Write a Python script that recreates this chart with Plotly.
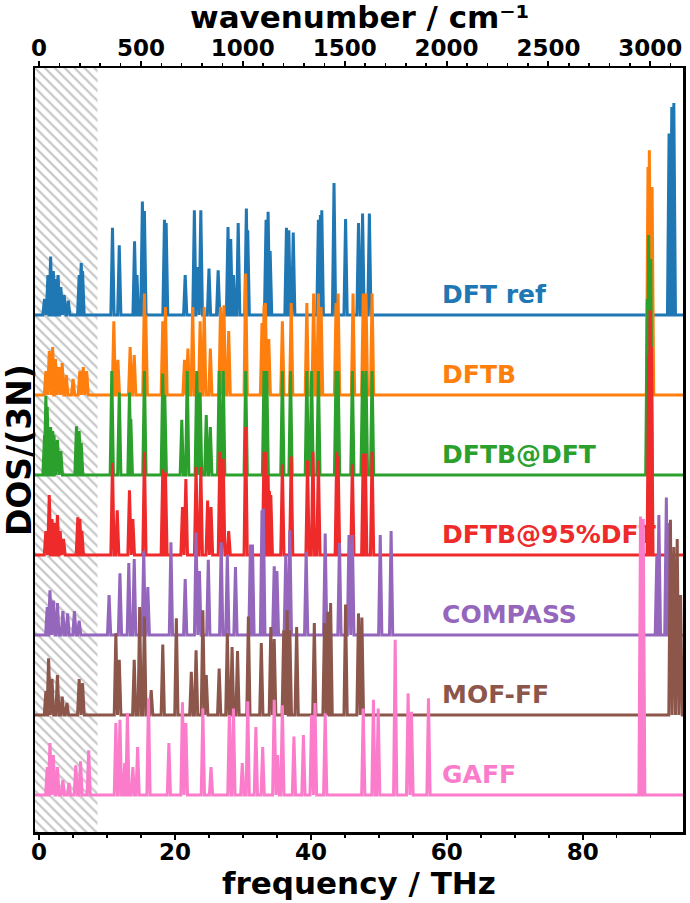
import plotly.graph_objects as go

# ---------------- data ----------------
THZ_TO_CM = 33.356          # 1 THz in cm^-1
X_RANGE = [-0.6, 94.75]     # THz
Y_RANGE = [-0.4625, 9.0875] # arbitrary DOS units (stacked)
HATCH_EDGE = 8.6            # THz, upper end of the hatched low-frequency band

series_names = ["DFT ref", "DFTB", "DFTB@DFT", "DFTB@95%DFT", "COMPASS", "MOF-FF", "GAFF"]
series_offsets = [6, 5, 4, 3, 2, 1, 0]
series_colors = ["#1f77b4", "#ff7f0e", "#2ca02c", "#ee2a2a", "#9467bd", "#8c564b", "#fb7ccb"]

dftref_pos = [0.8, 1.3, 1.7, 2.1, 2.5, 2.8, 3.2, 3.7, 4.3, 5.9, 6.2, 6.4,
              10.8, 11.8, 14.05, 14.4, 15.2, 15.5, 18.45, 18.7, 21.5, 22.85, 23.3, 23.8,
              25.0, 26.35, 27.8, 28.2, 28.6, 29.3, 30.5, 30.7, 33.4, 33.7, 34.0,
              36.4, 36.75, 37.4, 41.1, 41.4, 41.6, 43.4, 45.1, 47.0, 47.6, 48.6,
              92.7, 93.1, 93.4]
dftref_h = [0.2, 0.5, 0.73, 0.55, 0.45, 0.5, 0.35, 0.25, 0.18, 0.5, 0.65, 0.55,
            1.09, 0.87, 0.92, 0.5, 1.42, 1.3, 1.19, 1.15, 0.5, 1.31, 0.6, 1.31,
            0.58, 0.56, 1.1, 0.95, 0.5, 1.15, 1.33, 1.06, 1.19, 1.29, 0.8,
            1.09, 1.06, 1.03, 1.19, 1.25, 1.31, 1.65, 1.2, 1.15, 1.27, 1.27,
            2.27, 2.6, 2.65]

dftb_pos = [1.0, 1.5, 2.0, 2.4, 2.9, 3.4, 4.0, 5.0, 6.0, 6.5, 7.0,
            11.0, 11.6, 13.4, 14.0, 15.5, 15.7, 18.2, 18.6, 21.4, 21.9, 22.6, 23.7, 24.3,
            25.2, 26.7, 27.2, 27.9, 30.4, 32.8, 33.1, 33.3, 33.8, 35.8, 37.1, 39.4,
            40.4, 41.1, 41.5, 43.7, 44.0, 46.2, 47.7, 48.1, 49.0,
            89.6, 89.8, 90.2]
dftb_h = [0.3, 0.55, 0.6, 0.45, 0.35, 0.4, 0.25, 0.2, 0.3, 0.35, 0.3,
          0.92, 0.44, 0.6, 0.5, 1.27, 1.0, 0.92, 1.1, 0.44, 0.58, 1.1, 0.92, 1.1,
          0.58, 1.1, 1.12, 0.8, 1.52, 0.9, 1.12, 1.15, 0.7, 0.92, 1.15, 1.15,
          1.27, 1.27, 1.1, 1.15, 1.27, 1.27, 1.27, 1.27, 1.27,
          2.85, 3.06, 2.6]

dftbdft_pos = [0.8, 1.0, 1.2, 1.5, 1.7, 2.0, 2.2, 2.7, 3.2, 5.5, 5.9, 6.2,
               10.7, 11.8, 13.3, 13.5, 15.5, 18.2, 18.5, 21.0, 21.8, 23.2, 23.7, 24.6,
               25.2, 26.5, 27.1, 30.4, 33.1, 33.5, 35.8, 37.0, 39.4, 40.1, 41.1,
               43.7, 44.0, 46.1, 47.6, 48.1, 49.0,
               89.5, 89.7, 90.0]
dftbdft_h = [0.5, 0.99, 0.85, 0.6, 0.6, 0.55, 0.5, 0.44, 0.3, 0.61, 0.55, 0.4,
             1.3, 1.03, 1.03, 0.7, 1.3, 1.27, 1.0, 0.69, 1.3, 1.3, 1.03, 0.75,
             0.6, 1.3, 1.3, 1.3, 1.3, 1.3, 1.3, 1.3, 1.3, 1.3, 1.3,
             1.3, 1.3, 1.3, 1.3, 1.3, 1.3,
             2.2, 3.0, 2.7]

dftb95_pos = [1.0, 1.5, 1.9, 2.3, 2.7, 3.1, 3.6, 5.7, 6.0, 6.3,
              10.8, 11.5, 13.3, 13.8, 15.5, 18.2, 18.6, 21.1, 21.6, 23.1, 23.8, 24.8,
              25.3, 26.6, 27.1, 27.9, 30.4, 33.1, 33.3, 33.7, 33.9, 34.1, 35.8, 37.1,
              39.5, 40.3, 41.1, 43.8, 44.0, 46.1, 47.7, 48.0, 49.0,
              89.7, 89.9, 90.1]
dftb95_h = [0.3, 0.75, 0.45, 0.4, 0.5, 0.3, 0.2, 0.47, 0.45, 0.3,
            1.15, 0.56, 0.81, 0.45, 1.29, 1.07, 1.03, 0.6, 0.95, 1.1, 1.1, 0.68,
            0.6, 1.29, 1.2, 0.3, 1.6, 1.29, 1.29, 1.0, 0.8, 0.75, 1.13, 1.23,
            1.18, 1.29, 1.18, 1.29, 1.23, 1.13, 1.27, 1.27, 1.29,
            2.5, 3.06, 2.6]

compass_pos = [1.2, 1.6, 2.1, 2.7, 3.5, 4.2, 5.2, 5.9,
               10.3, 11.9, 13.2, 14.0, 15.4, 16.0, 19.4, 21.5, 23.1, 23.6, 24.9,
               26.8, 27.7, 28.9, 31.1, 31.4, 32.8, 33.0, 34.6, 35.0, 36.3, 36.9,
               39.3, 42.1, 44.2, 45.6, 46.1, 50.2, 51.8,
               90.9, 91.2, 92.3, 92.6]
compass_h = [0.35, 0.56, 0.43, 0.4, 0.3, 0.27, 0.3, 0.18,
             0.5, 0.77, 0.9, 0.95, 1.05, 0.6, 1.16, 0.7, 1.28, 0.8, 0.94,
             1.16, 1.0, 0.85, 1.13, 1.13, 1.56, 1.58, 0.86, 0.8, 1.0, 1.31,
             1.04, 1.27, 1.15, 1.25, 1.25, 1.25, 1.3,
             1.0, 1.5, 1.72, 1.4]

moff_pos = [1.0, 1.4, 1.9, 2.7, 3.4, 4.1, 5.9, 6.4,
            11.3, 11.8, 14.0, 14.8, 15.5, 16.5, 18.2, 20.2, 22.4, 23.1, 24.1, 24.6,
            26.5, 27.7, 28.4, 29.2, 30.8, 32.7, 34.1, 34.6, 36.0, 36.5, 36.9, 37.9,
            40.5, 42.0, 42.5, 42.9, 45.1, 47.0, 47.5,
            92.9, 93.4, 93.9, 94.4]
moff_h = [0.3, 0.71, 0.45, 0.5, 0.23, 0.15, 0.45, 0.4,
          1.02, 0.69, 0.69, 1.35, 1.23, 0.31, 0.88, 1.21, 0.54, 0.81, 1.31, 0.5,
          0.58, 1.02, 0.85, 0.8, 1.23, 0.9, 1.1, 0.95, 1.06, 1.31, 1.06, 1.1,
          1.15, 1.15, 1.29, 1.4, 1.38, 1.27, 1.22,
          2.44, 2.1, 2.2, 1.5]

gaff_pos = [1.2, 1.6, 2.1, 2.7, 3.5, 4.4, 5.4, 6.1, 7.3,
            11.3, 11.9, 12.6, 13.0, 13.8, 14.5, 16.1, 19.1, 21.1, 21.6, 24.1, 25.3,
            28.0, 28.6, 29.9, 30.7, 31.9, 32.9, 34.6, 35.1, 35.8, 37.5, 38.9,
            40.1, 40.6, 42.1, 47.7, 49.2, 49.9, 52.4, 54.3, 54.8, 57.3,
            88.5, 88.9]
gaff_h = [0.35, 0.65, 0.5, 0.35, 0.19, 0.15, 0.37, 0.42, 0.56,
          0.9, 0.94, 0.4, 1.02, 0.35, 0.6, 1.21, 0.65, 1.16, 0.9, 1.08, 0.35,
          1.0, 1.08, 0.4, 1.17, 0.85, 0.6, 1.19, 0.5, 1.12, 0.73, 0.75,
          1.0, 1.15, 1.02, 1.08, 1.19, 1.08, 1.94, 1.27, 1.04, 1.21,
          3.48, 3.45]

series_pos = [dftref_pos, dftb_pos, dftbdft_pos, dftb95_pos, compass_pos, moff_pos, gaff_pos]
series_h = [dftref_h, dftb_h, dftbdft_h, dftb95_h, compass_h, moff_h, gaff_h]

# ---------------- figure ----------------
FONT = "DejaVu Sans"
HALF_WIDTH = 0.24  # THz, half base width of each drawn peak
LABEL_X = 59.3     # THz, left edge of the series labels
LABEL_DY = 0.23    # label height above its baseline


def spectrum_xy(pos, hts, offset):
    xs, ys = [X_RANGE[0] - 1], [offset]
    for p, h in sorted(zip(pos, hts)):
        xs += [p - HALF_WIDTH, p, p + HALF_WIDTH]
        ys += [offset, offset + h, offset]
    xs.append(X_RANGE[1] + 1)
    ys.append(offset)
    return xs, ys


fig = go.Figure()

# hatched low-frequency band
fig.add_trace(go.Scatter(
    x=[X_RANGE[0], HATCH_EDGE, HATCH_EDGE, X_RANGE[0], X_RANGE[0]],
    y=[Y_RANGE[0], Y_RANGE[0], Y_RANGE[1], Y_RANGE[1], Y_RANGE[0]],
    mode="lines", line=dict(width=0), fill="toself",
    fillcolor="rgba(0,0,0,0)",
    fillpattern=dict(shape="\\", fgcolor="#8c8c8c", bgcolor="white",
                     size=7, solidity=0.32),
    hoverinfo="skip", showlegend=False))

# series labels (drawn beneath the spectra, as in the reference)
for name, off, col in zip(series_names, series_offsets, series_colors):
    fig.add_trace(go.Scatter(x=[LABEL_X], y=[off + LABEL_DY], mode="text",
                             text=[name], textposition="middle right",
                             textfont=dict(family=FONT, size=25, color=col, weight="bold"),
                             hoverinfo="skip", showlegend=False))

for name, off, col, pos, hts in zip(series_names, series_offsets, series_colors,
                                    series_pos, series_h):
    xs, ys = spectrum_xy(pos, hts, off)
    fig.add_trace(go.Scatter(x=xs, y=ys, mode="lines", name=name,
                             line=dict(color=col, width=3),
                             hoverinfo="skip", showlegend=False))

# invisible trace to activate the top (wavenumber) axis
fig.add_trace(go.Scatter(x=[X_RANGE[0] * THZ_TO_CM, X_RANGE[1] * THZ_TO_CM],
                         y=[None, None], xaxis="x2", mode="lines",
                         showlegend=False, hoverinfo="skip"))

title_font = dict(family=FONT, size=31, color="black", weight="bold")
fig.add_annotation(x=-0.0245, y=0.5, xref="paper", yref="paper", text="DOS/(3N)",
                   textangle=-90, showarrow=False, xanchor="center", yanchor="middle",
                   font=dict(family=FONT, size=33, color="black", weight="bold"))
fig.add_annotation(x=0.5, y=-0.041, xref="paper", yref="paper", text="frequency / THz",
                   showarrow=False, xanchor="center", yanchor="top", font=title_font)
fig.add_annotation(x=0.5, y=1.040, xref="paper", yref="paper",
                   text="wavenumber / cm⁻¹",
                   showarrow=False, xanchor="center", yanchor="bottom", font=title_font)

axis_common = dict(showgrid=False, zeroline=False, showline=True, linecolor="black",
                   linewidth=2.5, ticks="outside", ticklen=5, tickwidth=2,
                   tickcolor="black",
                   tickfont=dict(family=FONT, size=23, color="black", weight="bold"))

fig.update_layout(
    width=690, height=903,
    margin=dict(l=35, r=4, t=68, b=71),
    paper_bgcolor="white", plot_bgcolor="white",
    font=dict(family=FONT, color="black"),
    xaxis=dict(range=X_RANGE, tick0=0, dtick=20, ticklabelstandoff=-7,
               minor=dict(dtick=5, ticks="outside", ticklen=3, tickwidth=1.5,
                          tickcolor="black"),
               mirror=False, **axis_common),
    xaxis2=dict(range=[X_RANGE[0] * THZ_TO_CM, X_RANGE[1] * THZ_TO_CM],
                overlaying="x", side="top", anchor="y", tick0=0, dtick=500,
                ticklabelstandoff=-5,
                minor=dict(dtick=100, ticks="outside", ticklen=3, tickwidth=1.5,
                           tickcolor="black"),
                **axis_common),
    yaxis=dict(range=Y_RANGE, showticklabels=False, ticks="", showgrid=False,
               zeroline=False, showline=True, mirror=True, linecolor="black",
               linewidth=2.5),
)

fig.write_html("out.html",
               config={"displayModeBar": False, "staticPlot": True},
               post_script="document.body.style.margin='0';"
                           "document.body.style.overflow='hidden';")
